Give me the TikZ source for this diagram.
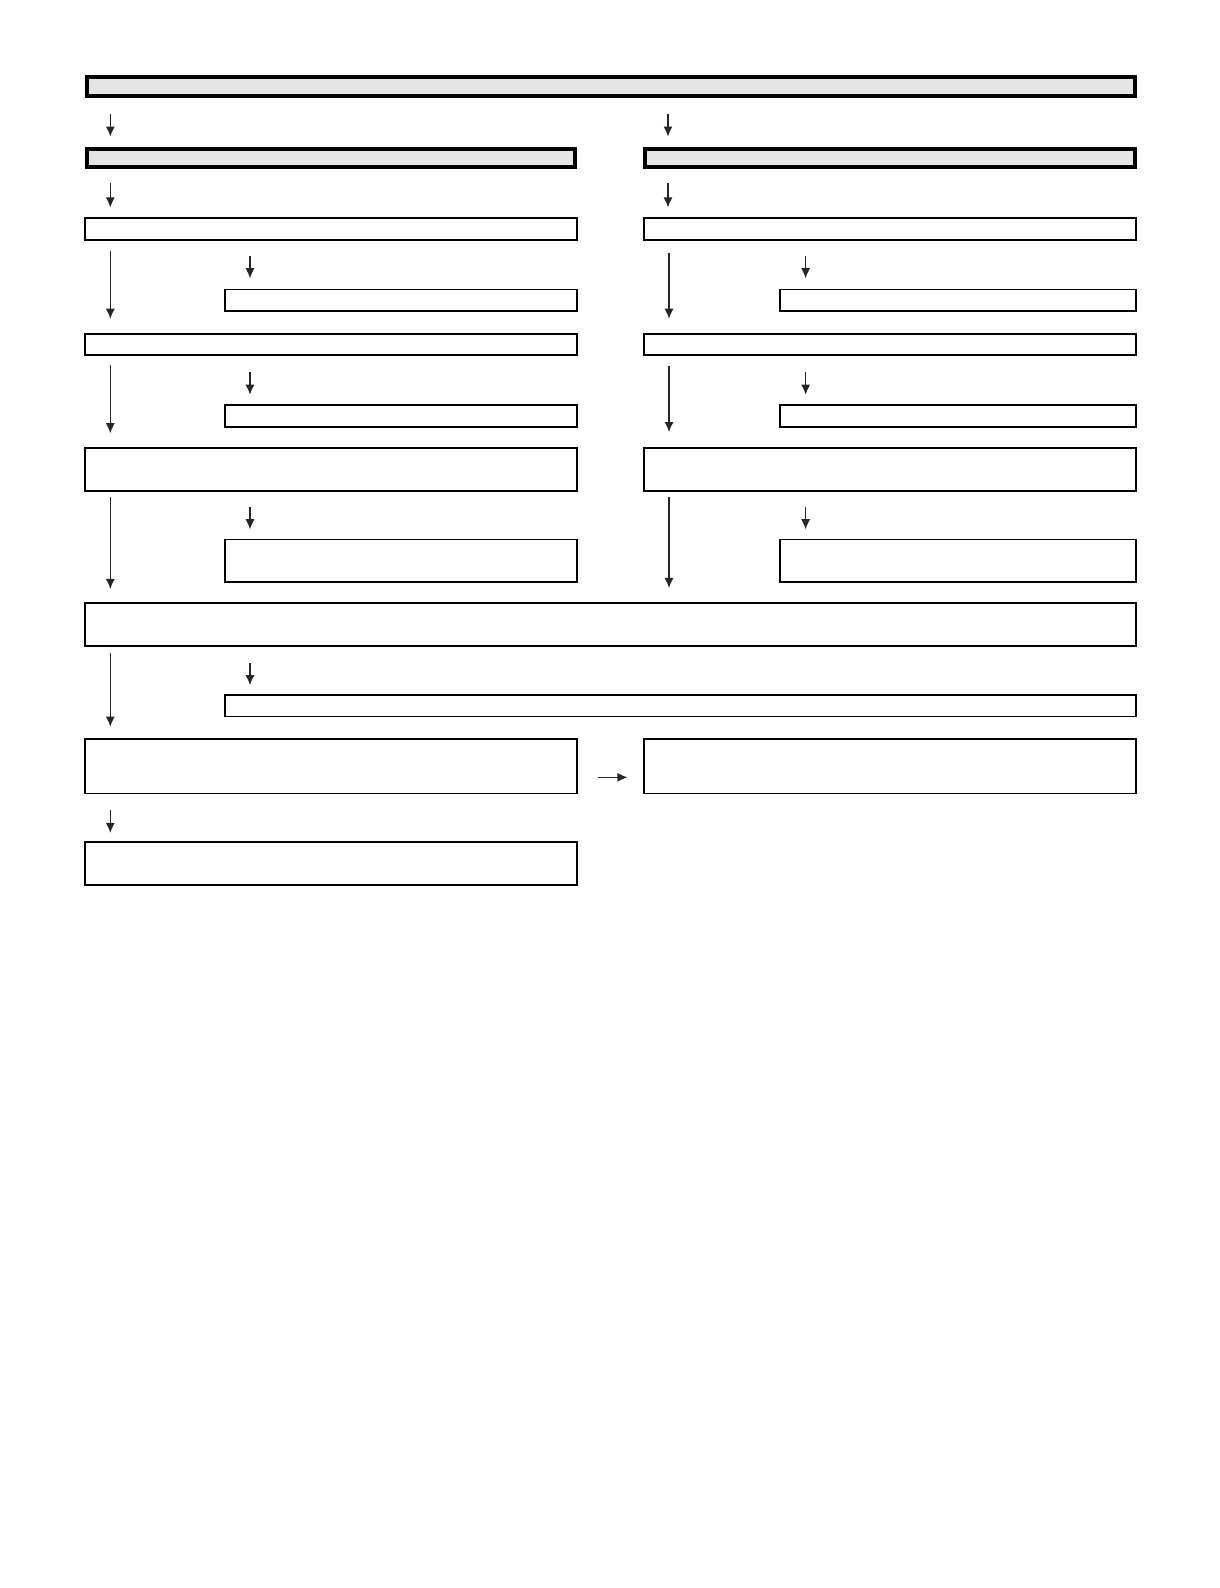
\documentclass[tikz,border=0pt]{standalone}
\usetikzlibrary{arrows.meta}
\begin{document}
\begin{tikzpicture}[x=1pt,y=-1pt]
\tikzset{box/.style={draw, line width=1.8pt, inner sep=0pt, outer sep=0pt, anchor=north west},
  head/.style={box, line width=4pt, fill=black!10},
  arr/.style={-{Latex[length=10pt,width=9pt]}, line width=1.3pt, black!85}}
\useasboundingbox (0,0) rectangle (1205,1569);
% header boxes
\node [head, minimum width=1035pt, minimum height=19pt] (top) at (86,76) {};
\node [head, minimum width=482pt, minimum height=18pt] (la) at (86,147) {};
\node [head, minimum width=484pt, minimum height=18pt] (ra) at (637,147) {};
% left column
\node [box, minimum width=486pt, minimum height=22pt] (lb) at (84,215) {};
\node [box, minimum width=348pt, minimum height=21pt] (lbs) at (222,286) {};
\node [box, minimum width=486pt, minimum height=21pt] (lc) at (84,330) {};
\node [box, minimum width=348pt, minimum height=22pt] (lcs) at (222,400) {};
\node [box, minimum width=486pt, minimum height=42pt] (ld) at (84,443) {};
\node [box, minimum width=348pt, minimum height=42pt] (lds) at (222,533) {};
% right column
\node [box, minimum width=486pt, minimum height=22pt] (rb) at (636,215) {};
\node [box, minimum width=351pt, minimum height=21pt] (rbs) at (771,286) {};
\node [box, minimum width=486pt, minimum height=21pt] (rc) at (636,330) {};
\node [box, minimum width=351pt, minimum height=22pt] (rcs) at (771,400) {};
\node [box, minimum width=486pt, minimum height=42pt] (rd) at (636,443) {};
\node [box, minimum width=351pt, minimum height=42pt] (rds) at (771,533) {};
% joined part
\node [box, minimum width=1038pt, minimum height=42pt] (wide) at (84,596) {};
\node [box, minimum width=900pt, minimum height=21pt] (wides) at (222,687) {};
\node [box, minimum width=486pt, minimum height=54pt] (le) at (84,730) {};
\node [box, minimum width=486pt, minimum height=54pt] (re) at (636,730) {};
\node [box, minimum width=486pt, minimum height=42pt] (lf) at (84,832) {};
% arrows
\draw [arr] ([xshift=23pt,yshift=34pt]la.north west) -- ([xshift=23pt,yshift=12pt]la.north west);
\draw [arr] ([xshift=23pt,yshift=34pt]ra.north west) -- ([xshift=23pt,yshift=12pt]ra.north west);
\draw [arr, shorten <=16pt, shorten >=10pt] ([xshift=23pt]la.south west) -- ([xshift=25pt]lb.north west);
\draw [arr, shorten <=16pt, shorten >=10pt] ([xshift=23pt]ra.south west) -- ([xshift=24pt]rb.north west);
\draw [arr, shorten <=11pt, shorten >=15pt] ([xshift=25pt]lb.south west) -- ([xshift=25pt]lc.north west);
\draw [arr, shorten <=13pt, shorten >=15pt] ([xshift=25pt]rb.south west) -- ([xshift=25pt]rc.north west);
\draw [arr] ([xshift=25pt,yshift=33pt]lbs.north west) -- ([xshift=25pt,yshift=11pt]lbs.north west);
\draw [arr] ([xshift=25pt,yshift=33pt]rbs.north west) -- ([xshift=25pt,yshift=11pt]rbs.north west);
\draw [arr, shorten <=10pt, shorten >=15pt] ([xshift=25pt]lc.south west) -- ([xshift=25pt]ld.north west);
\draw [arr, shorten <=11pt, shorten >=16pt] ([xshift=25pt]rc.south west) -- ([xshift=25pt]rd.north west);
\draw [arr] ([xshift=25pt,yshift=32pt]lcs.north west) -- ([xshift=25pt,yshift=10pt]lcs.north west);
\draw [arr] ([xshift=25pt,yshift=32pt]rcs.north west) -- ([xshift=25pt,yshift=10pt]rcs.north west);
\draw [arr, shorten <=6pt, shorten >=14pt] ([xshift=25pt]ld.south west) -- ([xshift=25pt]wide.north west);
\draw [arr, shorten <=6pt, shorten >=15pt] ([xshift=25pt]rd.south west) -- ([xshift=25pt]wide.north west -| rd.south west);
\draw [arr] ([xshift=25pt,yshift=32pt]lds.north west) -- ([xshift=25pt,yshift=10pt]lds.north west);
\draw [arr] ([xshift=25pt,yshift=32pt]rds.north west) -- ([xshift=25pt,yshift=10pt]rds.north west);
\draw [arr, shorten <=7pt, shorten >=12pt] ([xshift=25pt]wide.south west) -- ([xshift=25pt]le.north west);
\draw [arr] ([xshift=25pt,yshift=32pt]wides.north west) -- ([xshift=25pt,yshift=10pt]wides.north west);
\draw [arr, shorten <=21pt, shorten >=16pt] ([yshift=-38pt]le.north east) -- ([yshift=-38pt]re.north west);
\draw [arr, shorten <=16pt, shorten >=9pt] ([xshift=25pt]le.south west) -- ([xshift=25pt]lf.north west);
\end{tikzpicture}
\end{document}
